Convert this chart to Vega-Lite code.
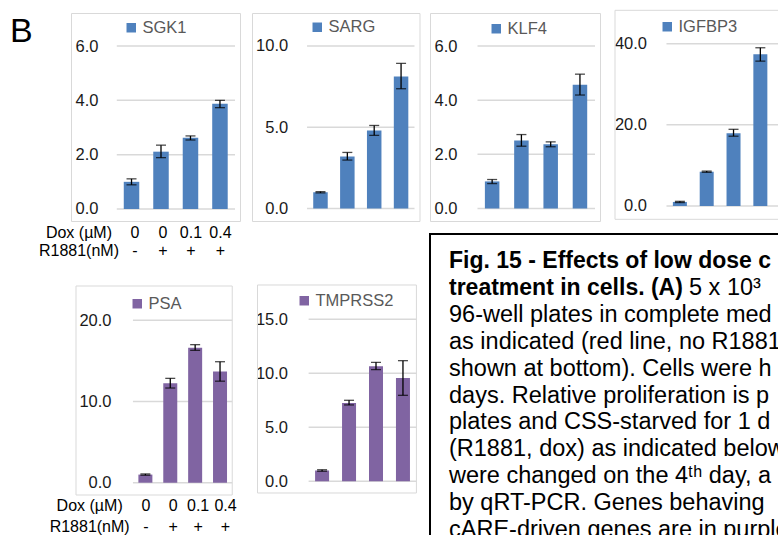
{
  "$schema": "https://vega.github.io/schema/vega-lite/v6.json",
  "autosize": {"type": "pad"},
  "padding": {"left": 9, "top": 9, "right": 0, "bottom": 0},
  "config": {
    "font": "Liberation Sans",
    "view": {"stroke": "#d9d9d9", "strokeWidth": 1},
    "axis": {"labelFont": "Liberation Sans", "labelColor": "#1a1a1a"},
    "legend": {"labelFont": "Liberation Sans"}
  },
  "datasets": {
    "genes": [
      {"gene": "SGK1", "c": 1, "v": 1.0, "lo": 0.89, "hi": 1.11},
      {"gene": "SGK1", "c": 2, "v": 2.11, "lo": 1.89, "hi": 2.35},
      {"gene": "SGK1", "c": 3, "v": 2.62, "lo": 2.54, "hi": 2.69},
      {"gene": "SGK1", "c": 4, "v": 3.87, "lo": 3.73, "hi": 4.0},
      {"gene": "SARG", "c": 1, "v": 1.0, "lo": 0.96, "hi": 1.04},
      {"gene": "SARG", "c": 2, "v": 3.2, "lo": 2.98, "hi": 3.45},
      {"gene": "SARG", "c": 3, "v": 4.8, "lo": 4.5, "hi": 5.11},
      {"gene": "SARG", "c": 4, "v": 8.13, "lo": 7.37, "hi": 8.93},
      {"gene": "KLF4", "c": 1, "v": 1.0, "lo": 0.92, "hi": 1.07},
      {"gene": "KLF4", "c": 2, "v": 2.51, "lo": 2.3, "hi": 2.73},
      {"gene": "KLF4", "c": 3, "v": 2.37, "lo": 2.28, "hi": 2.46},
      {"gene": "KLF4", "c": 4, "v": 4.57, "lo": 4.19, "hi": 4.96},
      {"gene": "IGFBP3", "c": 1, "v": 1.0, "lo": 0.85, "hi": 1.15},
      {"gene": "IGFBP3", "c": 2, "v": 8.45, "lo": 8.3, "hi": 8.6},
      {"gene": "IGFBP3", "c": 3, "v": 17.9, "lo": 17.2, "hi": 18.9},
      {"gene": "IGFBP3", "c": 4, "v": 37.4, "lo": 35.7, "hi": 39.0},
      {"gene": "PSA", "c": 1, "v": 1.0, "lo": 0.92, "hi": 1.08},
      {"gene": "PSA", "c": 2, "v": 12.24, "lo": 11.66, "hi": 12.85},
      {"gene": "PSA", "c": 3, "v": 16.63, "lo": 16.3, "hi": 17.0},
      {"gene": "PSA", "c": 4, "v": 13.68, "lo": 12.5, "hi": 14.9},
      {"gene": "TMPRSS2", "c": 1, "v": 1.0, "lo": 0.93, "hi": 1.07},
      {"gene": "TMPRSS2", "c": 2, "v": 7.25, "lo": 7.07, "hi": 7.5},
      {"gene": "TMPRSS2", "c": 3, "v": 10.65, "lo": 10.34, "hi": 11.02},
      {"gene": "TMPRSS2", "c": 4, "v": 9.57, "lo": 7.96, "hi": 11.17}
    ],
    "caption": [
      {"line": 0, "t": "Fig. 15 - Effects of low dose c", "b": true},
      {"line": 1, "t": "treatment in cells.  (A)", "b": true},
      {"line": 2, "t": "96-well plates in complete med", "b": false},
      {"line": 3, "t": "as indicated (red line, no R1881", "b": false},
      {"line": 4, "t": "shown at bottom).  Cells were h", "b": false},
      {"line": 5, "t": "days.  Relative proliferation is p", "b": false},
      {"line": 6, "t": "plates and CSS-starved for 1 d", "b": false},
      {"line": 7, "t": "(R1881, dox) as indicated below", "b": false},
      {"line": 8, "t": "were changed on the 4ᵗʰ day, a", "b": false},
      {"line": 9, "t": "by qRT-PCR.  Genes behaving", "b": false},
      {"line": 10, "t": "cARE-driven genes are in purple", "b": false}
    ],
    "captiontail": [
      {"line": 1, "t": "5 x 10³"}
    ]
  },
  "columns": 4,
  "align": "none",
  "bounds": "flush",
  "spacing": {"row": 13, "column": 10},
  "resolve": {"scale": {"color": "independent"}},
  "concat": [
    {
      "width": 169, "height": 208,
      "title": {"text": "B", "orient": "top", "anchor": "start", "frame": "group", "align": "left", "baseline": "top", "offset": -32, "dx": -61, "dy": 3.8, "fontSize": 34, "fontWeight": "normal", "color": "#000", "font": "Liberation Sans"},
      "resolve": {"axis": {"x": "independent", "y": "independent"}},
      "layer": [
        {"data": {"values": [{"tick": 0}, {"tick": 2}, {"tick": 4}, {"tick": 6}]},
         "mark": {"type": "rule", "color": "#d9d9d9", "strokeWidth": 1.5},
         "encoding": {"y": {"field": "tick", "type": "quantitative", "axis": null}, "x": {"datum": 0.5, "type": "quantitative", "axis": null}, "x2": {"datum": 4.51}}},
        {"data": {"name": "genes"}, "transform": [{"filter": "datum.gene === 'SGK1'"}],
         "mark": {"type": "bar", "width": 15.5},
         "encoding": {
           "x": {"field": "c", "type": "quantitative", "scale": {"domain": [-0.883, 4.51], "nice": false, "zero": false},
                 "axis": {"orient": "bottom", "values": [-0.8, 1.1, 2.05, 3, 4], "labelExpr": "datum.value < 0 ? ['Dox (µM)', 'R1881(nM)'] : datum.value < 1.5 ? ['0', '-'] : datum.value < 2.5 ? ['0', '+'] : datum.value < 3.5 ? ['0.1', '+'] : ['0.4', '+']",
                          "domain": false, "ticks": false, "grid": false, "labelPadding": 3, "labelFontSize": 16, "labelLineHeight": 18.5, "labelBaseline": "top", "labelColor": "#000", "labelAngle": 0, "title": null, "labelOverlap": false, "labelBound": false, "labelFlush": false}},
           "y": {"field": "v", "type": "quantitative", "scale": {"domain": [-0.442, 7.215], "nice": false, "zero": false},
                 "axis": {"orient": "left", "values": [0, 2, 4, 6], "format": ".1f", "offset": -43, "labelPadding": 16, "domain": false, "ticks": false, "grid": false, "labelFontSize": 16.5, "title": null}},
           "y2": {"datum": 0},
           "color": {"field": "gene", "type": "nominal", "scale": {"domain": ["SGK1"], "range": ["#4F81BD"]},
                     "legend": {"orient": "none", "legendX": 52, "legendY": 6.5, "title": null, "symbolType": "square", "symbolSize": 90, "symbolStrokeWidth": 0, "labelFontSize": 16.5, "labelColor": "#595959", "padding": 0, "labelOffset": 3}}
         }},
        {"data": {"name": "genes"}, "transform": [{"filter": "datum.gene === 'SGK1'"}],
         "mark": {"type": "rule", "color": "#000", "strokeWidth": 1.3},
         "encoding": {"x": {"field": "c", "type": "quantitative", "axis": null}, "y": {"field": "lo", "type": "quantitative", "axis": null}, "y2": {"field": "hi"}}},
        {"data": {"name": "genes"}, "transform": [{"filter": "datum.gene === 'SGK1'"}],
         "mark": {"type": "tick", "orient": "horizontal", "color": "#000", "size": 10, "thickness": 1.3},
         "encoding": {"x": {"field": "c", "type": "quantitative", "axis": null}, "y": {"field": "lo", "type": "quantitative", "axis": null}}},
        {"data": {"name": "genes"}, "transform": [{"filter": "datum.gene === 'SGK1'"}],
         "mark": {"type": "tick", "orient": "horizontal", "color": "#000", "size": 10, "thickness": 1.3},
         "encoding": {"x": {"field": "c", "type": "quantitative", "axis": null}, "y": {"field": "hi", "type": "quantitative", "axis": null}}}
      ]
    },
    {
      "width": 167.5, "height": 208,
      "resolve": {"axis": {"x": "independent", "y": "independent"}},
      "layer": [
        {"data": {"values": [{"tick": 0}, {"tick": 5}, {"tick": 10}]},
         "mark": {"type": "rule", "color": "#d9d9d9", "strokeWidth": 1.5},
         "encoding": {"y": {"field": "tick", "type": "quantitative", "axis": null}, "x": {"datum": 0.5, "type": "quantitative", "axis": null}, "x2": {"datum": 4.5}}},
        {"data": {"name": "genes"}, "transform": [{"filter": "datum.gene === 'SARG'"}],
         "mark": {"type": "bar", "width": 14.5},
         "encoding": {
           "x": {"field": "c", "type": "quantitative", "scale": {"domain": [-1.363, 4.5], "nice": false, "zero": false}, "axis": null},
           "y": {"field": "v", "type": "quantitative", "scale": {"domain": [-0.769, 12.03], "nice": false, "zero": false},
                 "axis": {"orient": "left", "values": [0, 5, 10], "format": ".1f", "offset": -53.2, "labelPadding": 17.5, "domain": false, "ticks": false, "grid": false, "labelFontSize": 16.5, "title": null}},
           "y2": {"datum": 0},
           "color": {"field": "gene", "type": "nominal", "scale": {"domain": ["SARG"], "range": ["#4F81BD"]},
                     "legend": {"orient": "none", "legendX": 57, "legendY": 6, "title": null, "symbolType": "square", "symbolSize": 90, "symbolStrokeWidth": 0, "labelFontSize": 16.5, "labelColor": "#595959", "padding": 0, "labelOffset": 3}}
         }},
        {"data": {"name": "genes"}, "transform": [{"filter": "datum.gene === 'SARG'"}],
         "mark": {"type": "rule", "color": "#000", "strokeWidth": 1.3},
         "encoding": {"x": {"field": "c", "type": "quantitative", "axis": null}, "y": {"field": "lo", "type": "quantitative", "axis": null}, "y2": {"field": "hi"}}},
        {"data": {"name": "genes"}, "transform": [{"filter": "datum.gene === 'SARG'"}],
         "mark": {"type": "tick", "orient": "horizontal", "color": "#000", "size": 10, "thickness": 1.3},
         "encoding": {"x": {"field": "c", "type": "quantitative", "axis": null}, "y": {"field": "lo", "type": "quantitative", "axis": null}}},
        {"data": {"name": "genes"}, "transform": [{"filter": "datum.gene === 'SARG'"}],
         "mark": {"type": "tick", "orient": "horizontal", "color": "#000", "size": 10, "thickness": 1.3},
         "encoding": {"x": {"field": "c", "type": "quantitative", "axis": null}, "y": {"field": "hi", "type": "quantitative", "axis": null}}}
      ]
    },
    {
      "width": 170, "height": 208,
      "resolve": {"axis": {"x": "independent", "y": "independent"}},
      "layer": [
        {"data": {"values": [{"tick": 0}, {"tick": 2}, {"tick": 4}, {"tick": 6}]},
         "mark": {"type": "rule", "color": "#d9d9d9", "strokeWidth": 1.5},
         "encoding": {"y": {"field": "tick", "type": "quantitative", "axis": null}, "x": {"datum": 0.5, "type": "quantitative", "axis": null}, "x2": {"datum": 4.514}}},
        {"data": {"name": "genes"}, "transform": [{"filter": "datum.gene === 'KLF4'"}],
         "mark": {"type": "bar", "width": 14.5},
         "encoding": {
           "x": {"field": "c", "type": "quantitative", "scale": {"domain": [-0.952, 4.514], "nice": false, "zero": false}, "axis": null},
           "y": {"field": "v", "type": "quantitative", "scale": {"domain": [-0.462, 7.219], "nice": false, "zero": false},
                 "axis": {"orient": "left", "values": [0, 2, 4, 6], "format": ".1f", "offset": -45, "labelPadding": 18, "domain": false, "ticks": false, "grid": false, "labelFontSize": 16.5, "title": null}},
           "y2": {"datum": 0},
           "color": {"field": "gene", "type": "nominal", "scale": {"domain": ["KLF4"], "range": ["#4F81BD"]},
                     "legend": {"orient": "none", "legendX": 58, "legendY": 7.5, "title": null, "symbolType": "square", "symbolSize": 90, "symbolStrokeWidth": 0, "labelFontSize": 16.5, "labelColor": "#595959", "padding": 0, "labelOffset": 3}}
         }},
        {"data": {"name": "genes"}, "transform": [{"filter": "datum.gene === 'KLF4'"}],
         "mark": {"type": "rule", "color": "#000", "strokeWidth": 1.3},
         "encoding": {"x": {"field": "c", "type": "quantitative", "axis": null}, "y": {"field": "lo", "type": "quantitative", "axis": null}, "y2": {"field": "hi"}}},
        {"data": {"name": "genes"}, "transform": [{"filter": "datum.gene === 'KLF4'"}],
         "mark": {"type": "tick", "orient": "horizontal", "color": "#000", "size": 10, "thickness": 1.3},
         "encoding": {"x": {"field": "c", "type": "quantitative", "axis": null}, "y": {"field": "lo", "type": "quantitative", "axis": null}}},
        {"data": {"name": "genes"}, "transform": [{"filter": "datum.gene === 'KLF4'"}],
         "mark": {"type": "tick", "orient": "horizontal", "color": "#000", "size": 10, "thickness": 1.3},
         "encoding": {"x": {"field": "c", "type": "quantitative", "axis": null}, "y": {"field": "hi", "type": "quantitative", "axis": null}}}
      ]
    },
    {
      "width": 180, "height": 208,
      "view": {"stroke": null},
      "resolve": {"axis": {"x": "independent", "y": "independent"}},
      "layer": [
        {"data": {"values": [{"k": 1}]},
         "mark": {"type": "rect", "fill": null, "stroke": "#d9d9d9", "strokeWidth": 1},
         "encoding": {"x": {"datum": -1.419, "type": "quantitative", "axis": null}, "x2": {"datum": 6.0}, "y": {"datum": -3.278, "type": "quantitative", "axis": null}, "y2": {"datum": 48.23}}},
        {"data": {"values": [{"tick": 0}, {"tick": 20}, {"tick": 40}]},
         "mark": {"type": "rule", "color": "#d9d9d9", "strokeWidth": 1.5},
         "encoding": {"y": {"field": "tick", "type": "quantitative", "axis": null}, "x": {"datum": 0.5, "type": "quantitative", "axis": null}, "x2": {"datum": 4.919}}},
        {"data": {"name": "genes"}, "transform": [{"filter": "datum.gene === 'IGFBP3'"}],
         "mark": {"type": "bar", "width": 14},
         "encoding": {
           "x": {"field": "c", "type": "quantitative", "scale": {"domain": [-1.419, 4.919], "nice": false, "zero": false}, "axis": null},
           "y": {"field": "v", "type": "quantitative", "scale": {"domain": [-3.697, 47.566], "nice": false, "zero": false},
                 "axis": {"orient": "left", "values": [0, 20, 40], "format": ".1f", "offset": -54.5, "labelPadding": 18, "domain": false, "ticks": false, "grid": false, "labelFontSize": 16.5, "title": null}},
           "y2": {"datum": 0},
           "color": {"field": "gene", "type": "nominal", "scale": {"domain": ["IGFBP3"], "range": ["#4F81BD"]},
                     "legend": {"orient": "none", "legendX": 49, "legendY": 5.5, "title": null, "symbolType": "square", "symbolSize": 90, "symbolStrokeWidth": 0, "labelFontSize": 16.5, "labelColor": "#595959", "padding": 0, "labelOffset": 3}}
         }},
        {"data": {"name": "genes"}, "transform": [{"filter": "datum.gene === 'IGFBP3'"}],
         "mark": {"type": "rule", "color": "#000", "strokeWidth": 1.3},
         "encoding": {"x": {"field": "c", "type": "quantitative", "axis": null}, "y": {"field": "lo", "type": "quantitative", "axis": null}, "y2": {"field": "hi"}}},
        {"data": {"name": "genes"}, "transform": [{"filter": "datum.gene === 'IGFBP3'"}],
         "mark": {"type": "tick", "orient": "horizontal", "color": "#000", "size": 10, "thickness": 1.3},
         "encoding": {"x": {"field": "c", "type": "quantitative", "axis": null}, "y": {"field": "lo", "type": "quantitative", "axis": null}}},
        {"data": {"name": "genes"}, "transform": [{"filter": "datum.gene === 'IGFBP3'"}],
         "mark": {"type": "tick", "orient": "horizontal", "color": "#000", "size": 10, "thickness": 1.3},
         "encoding": {"x": {"field": "c", "type": "quantitative", "axis": null}, "y": {"field": "hi", "type": "quantitative", "axis": null}}}
      ]
    },
    {
      "width": 170.5, "height": 261,
      "view": {"stroke": null},
      "resolve": {"axis": {"x": "independent", "y": "independent"}},
      "layer": [
        {"data": {"values": [{"k": 1}]},
         "mark": {"type": "rect", "fill": null, "stroke": "#d9d9d9", "strokeWidth": 1},
         "encoding": {"x": {"datum": -1.789, "type": "quantitative", "axis": null}, "x2": {"datum": 4.49}, "y": {"datum": -1.515, "type": "quantitative", "axis": null}, "y2": {"datum": 24.224}}},
        {"data": {"values": [{"tick": 0}, {"tick": 10}, {"tick": 20}]},
         "mark": {"type": "rule", "color": "#d9d9d9", "strokeWidth": 1.5},
         "encoding": {"y": {"field": "tick", "type": "quantitative", "axis": null}, "x": {"datum": 0.5, "type": "quantitative", "axis": null}, "x2": {"datum": 4.49}}},
        {"data": {"name": "genes"}, "transform": [{"filter": "datum.gene === 'PSA'"}],
         "mark": {"type": "bar", "width": 14},
         "encoding": {
           "x": {"field": "c", "type": "quantitative", "scale": {"domain": [-1.789, 4.662], "nice": false, "zero": false},
                 "axis": {"orient": "bottom", "values": [-1.26, 1, 2.1, 3.1, 4.2], "labelExpr": "datum.value < 0 ? ['Dox (µM)', 'R1881(nM)'] : datum.value < 1.5 ? ['0', '-'] : datum.value < 2.5 ? ['0', '+'] : datum.value < 3.5 ? ['0.1', '+'] : ['0.4', '+']",
                          "domain": false, "ticks": false, "grid": false, "labelPadding": 2, "labelFontSize": 16, "labelLineHeight": 21, "labelBaseline": "top", "labelColor": "#000", "labelAngle": 0, "title": null, "labelOverlap": false, "labelBound": false, "labelFlush": false}},
           "y": {"field": "v", "type": "quantitative", "scale": {"domain": [-1.515, 30.628], "nice": false, "zero": false},
                 "axis": {"orient": "left", "values": [0, 10, 20], "format": ".1f", "offset": -60.5, "labelPadding": 20.5, "domain": false, "ticks": false, "grid": false, "labelFontSize": 16.5, "title": null}},
           "y2": {"datum": 0},
           "color": {"field": "gene", "type": "nominal", "scale": {"domain": ["PSA"], "range": ["#8064A2"]},
                     "legend": {"orient": "none", "legendX": 58, "legendY": 61.5, "title": null, "symbolType": "square", "symbolSize": 90, "symbolStrokeWidth": 0, "labelFontSize": 16.5, "labelColor": "#595959", "padding": 0, "labelOffset": 3}}
         }},
        {"data": {"name": "genes"}, "transform": [{"filter": "datum.gene === 'PSA'"}],
         "mark": {"type": "rule", "color": "#000", "strokeWidth": 1.3},
         "encoding": {"x": {"field": "c", "type": "quantitative", "axis": null}, "y": {"field": "lo", "type": "quantitative", "axis": null}, "y2": {"field": "hi"}}},
        {"data": {"name": "genes"}, "transform": [{"filter": "datum.gene === 'PSA'"}],
         "mark": {"type": "tick", "orient": "horizontal", "color": "#000", "size": 10, "thickness": 1.3},
         "encoding": {"x": {"field": "c", "type": "quantitative", "axis": null}, "y": {"field": "lo", "type": "quantitative", "axis": null}}},
        {"data": {"name": "genes"}, "transform": [{"filter": "datum.gene === 'PSA'"}],
         "mark": {"type": "tick", "orient": "horizontal", "color": "#000", "size": 10, "thickness": 1.3},
         "encoding": {"x": {"field": "c", "type": "quantitative", "axis": null}, "y": {"field": "hi", "type": "quantitative", "axis": null}}}
      ]
    },
    {
      "width": 167.5, "height": 261,
      "view": {"stroke": null},
      "resolve": {"axis": {"x": "independent", "y": "independent"}},
      "layer": [
        {"data": {"values": [{"k": 1}]},
         "mark": {"type": "rect", "fill": null, "stroke": "#d9d9d9", "strokeWidth": 1},
         "encoding": {"x": {"datum": -1.396, "type": "quantitative", "axis": null}, "x2": {"datum": 4.499}, "y": {"datum": -1.083, "type": "quantitative", "axis": null}, "y2": {"datum": 18.176}}},
        {"data": {"values": [{"tick": 0}, {"tick": 5}, {"tick": 10}, {"tick": 15}]},
         "mark": {"type": "rule", "color": "#d9d9d9", "strokeWidth": 1.5},
         "encoding": {"y": {"field": "tick", "type": "quantitative", "axis": null}, "x": {"datum": 0.5, "type": "quantitative", "axis": null}, "x2": {"datum": 4.499}}},
        {"data": {"name": "genes"}, "transform": [{"filter": "datum.gene === 'TMPRSS2'"}],
         "mark": {"type": "bar", "width": 14},
         "encoding": {
           "x": {"field": "c", "type": "quantitative", "scale": {"domain": [-1.414, 4.428], "nice": false, "zero": false}, "axis": null},
           "y": {"field": "v", "type": "quantitative", "scale": {"domain": [-1.269, 22.898], "nice": false, "zero": false},
                 "axis": {"orient": "left", "values": [0, 5, 10, 15], "format": ".1f", "offset": -54.9, "labelPadding": 19.4, "domain": false, "ticks": false, "grid": false, "labelFontSize": 16.5, "title": null}},
           "y2": {"datum": 0},
           "color": {"field": "gene", "type": "nominal", "scale": {"domain": ["TMPRSS2"], "range": ["#8064A2"]},
                     "legend": {"orient": "none", "legendX": 44, "legendY": 58.5, "title": null, "symbolType": "square", "symbolSize": 90, "symbolStrokeWidth": 0, "labelFontSize": 16.5, "labelColor": "#595959", "padding": 0, "labelOffset": 3}}
         }},
        {"data": {"name": "genes"}, "transform": [{"filter": "datum.gene === 'TMPRSS2'"}],
         "mark": {"type": "rule", "color": "#000", "strokeWidth": 1.3},
         "encoding": {"x": {"field": "c", "type": "quantitative", "axis": null}, "y": {"field": "lo", "type": "quantitative", "axis": null}, "y2": {"field": "hi"}}},
        {"data": {"name": "genes"}, "transform": [{"filter": "datum.gene === 'TMPRSS2'"}],
         "mark": {"type": "tick", "orient": "horizontal", "color": "#000", "size": 10, "thickness": 1.3},
         "encoding": {"x": {"field": "c", "type": "quantitative", "axis": null}, "y": {"field": "lo", "type": "quantitative", "axis": null}}},
        {"data": {"name": "genes"}, "transform": [{"filter": "datum.gene === 'TMPRSS2'"}],
         "mark": {"type": "tick", "orient": "horizontal", "color": "#000", "size": 10, "thickness": 1.3},
         "encoding": {"x": {"field": "c", "type": "quantitative", "axis": null}, "y": {"field": "hi", "type": "quantitative", "axis": null}}}
      ]
    },
    {
      "width": 168, "height": 320,
      "view": {"stroke": null},
      "layer": [
        {"data": {"values": [{"k": 1}]},
         "mark": {"type": "rect", "fill": null, "stroke": "#000", "strokeWidth": 2},
         "encoding": {
           "x": {"datum": -0.95, "type": "quantitative", "scale": {"domain": [-0.95, 7.45], "nice": false, "zero": false}, "axis": null},
           "x2": {"datum": 17.05},
           "y": {"datum": -1.004, "type": "quantitative", "scale": {"domain": [-1.004, 10.892], "reverse": true, "nice": false, "zero": false}, "axis": null},
           "y2": {"datum": 10.892}
         }},
        {"data": {"name": "caption"}, "transform": [{"filter": "datum.b"}],
         "mark": {"type": "text", "align": "left", "baseline": "middle", "fontSize": 23, "fontWeight": "bold", "color": "#000", "font": "Liberation Sans"},
         "encoding": {
           "x": {"datum": 0, "type": "quantitative", "axis": null},
           "y": {"field": "line", "type": "quantitative", "axis": null},
           "text": {"field": "t"}
         }},
        {"data": {"name": "caption"}, "transform": [{"filter": "!datum.b"}],
         "mark": {"type": "text", "align": "left", "baseline": "middle", "fontSize": 23.5, "color": "#000", "font": "Liberation Sans"},
         "encoding": {
           "x": {"datum": 0, "type": "quantitative", "axis": null},
           "y": {"field": "line", "type": "quantitative", "axis": null},
           "text": {"field": "t"}
         }},
        {"data": {"name": "captiontail"},
         "mark": {"type": "text", "align": "left", "baseline": "middle", "fontSize": 23.5, "color": "#000", "font": "Liberation Sans", "dx": 240},
         "encoding": {
           "x": {"datum": 0, "type": "quantitative", "axis": null},
           "y": {"field": "line", "type": "quantitative", "axis": null},
           "text": {"field": "t"}
         }}
      ]
    }
  ]
}
